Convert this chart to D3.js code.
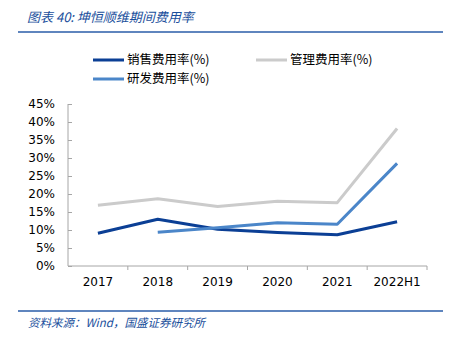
<!DOCTYPE html>
<html>
<head>
<meta charset="utf-8">
<script src="https://cdn.jsdelivr.net/npm/d3@7"></script>
<style>
  body { margin: 0; background: #fff; }
  svg { display: block; }
</style>
</head>
<body>
<svg id="chart"></svg>
<script>
var width = 452;
var height = 337;

// data
var years = ['2017', '2018', '2019', '2020', '2021', '2022H1'];
var sales = [9.1, 13.0, 10.2, 9.3, 8.7, 12.3];
var admin = [16.9, 18.7, 16.5, 18.0, 17.6, 38.2];
var rnd = [null, 9.4, 10.6, 12.0, 11.6, 28.5];
var yTicks = [0, 5, 10, 15, 20, 25, 30, 35, 40, 45];

var series = [
  {name: '销售费用率(%)', values: sales, color: '#0b3f95'},
  {name: '管理费用率(%)', values: admin, color: '#cbcbcb'},
  {name: '研发费用率(%)', values: rnd, color: '#4b86c9'}
];

var plotLeft = 68, plotRight = 427, plotTop = 104, plotBottom = 266;

var svg = d3.select('#chart')
    .attr('width', width)
    .attr('height', height);

var xScale = d3.scaleBand()
    .domain(years)
    .range([plotLeft, plotRight]);

var yScale = d3.scaleLinear()
    .domain([0, 45])
    .range([plotBottom, plotTop]);

// title and rules
svg.append('text')
    .attr('x', 27)
    .attr('y', 22)
    .style('font-family', '"Noto Sans CJK SC", sans-serif')
    .style('font-style', 'italic')
    .style('font-size', '13px')
    .attr('fill', '#1a4f9c')
    .text('图表 40:  坤恒顺维期间费用率');

svg.append('line')
    .attr('x1', 18).attr('x2', 443)
    .attr('y1', 32).attr('y2', 32)
    .attr('stroke', '#2a5ca8')
    .attr('stroke-width', 1.5);

svg.append('line')
    .attr('x1', 18).attr('x2', 443)
    .attr('y1', 311).attr('y2', 311)
    .attr('stroke', '#2a5ca8')
    .attr('stroke-width', 1.5);

svg.append('text')
    .attr('x', 28)
    .attr('y', 327)
    .style('font-family', '"Noto Sans CJK SC", sans-serif')
    .style('font-style', 'italic')
    .style('font-size', '11.5px')
    .attr('fill', '#1a4f9c')
    .text('资料来源：Wind，国盛证券研究所');

// axes
var yAxis = d3.axisLeft(yScale)
    .tickValues(yTicks)
    .tickSize(-4)
    .tickPadding(13)
    .tickFormat(d => d + '%');

var xAxis = d3.axisBottom(xScale)
    .tickSize(0)
    .tickPadding(11);

var gy = svg.append('g')
    .attr('transform', 'translate(' + plotLeft + ',0)')
    .call(yAxis);

var gx = svg.append('g')
    .attr('transform', 'translate(0,' + plotBottom + ')')
    .call(xAxis);

// category boundaries as x ticks
gx.selectAll('.edge')
    .data(years)
    .enter()
  .append('line')
    .attr('x1', d => xScale(d) + xScale.step())
    .attr('x2', d => xScale(d) + xScale.step())
    .attr('y1', 0).attr('y2', 4)
    .attr('stroke', '#a6a6a6');

[gx, gy].forEach(function (g) {
  g.select('.domain').attr('stroke', '#a6a6a6').attr('stroke-width', 1);
  g.selectAll('.tick line').attr('stroke', '#a6a6a6');
  g.selectAll('text')
      .style('font-family', '"DejaVu Sans", Verdana, sans-serif')
      .style('font-size', '12px')
      .attr('fill', '#000');
});
gy.select('.domain').attr('d', 'M0,' + plotTop + 'V' + plotBottom);
gx.select('.domain').attr('d', 'M' + plotLeft + ',0H' + plotRight);

// lines
var line = d3.line()
    .defined(d => d != null)
    .x((d, i) => xScale(years[i]) + xScale.bandwidth() / 2)
    .y(d => yScale(d));

svg.selectAll('.series')
    .data(series)
    .enter()
  .append('path')
    .attr('class', 'series')
    .attr('fill', 'none')
    .attr('stroke', d => d.color)
    .attr('stroke-width', 3)
    .attr('stroke-linejoin', 'round')
    .attr('d', d => line(d.values));

// legend
var legendPos = [[93, 60], [256, 60], [93, 79]];
var legend = svg.selectAll('.legend')
    .data(series)
    .enter()
  .append('g')
    .attr('class', 'legend')
    .attr('transform', (d, i) => 'translate(' + legendPos[i][0] + ',' + legendPos[i][1] + ')');

legend.append('line')
    .attr('x1', 0).attr('x2', 31)
    .attr('stroke', d => d.color)
    .attr('stroke-width', 3);

legend.append('text')
    .attr('x', 34)
    .attr('dy', '0.35em')
    .style('font-family', '"Noto Sans CJK SC", sans-serif')
    .style('font-size', '12.5px')
    .attr('fill', '#000')
    .text(d => d.name);
</script>
</body>
</html>
